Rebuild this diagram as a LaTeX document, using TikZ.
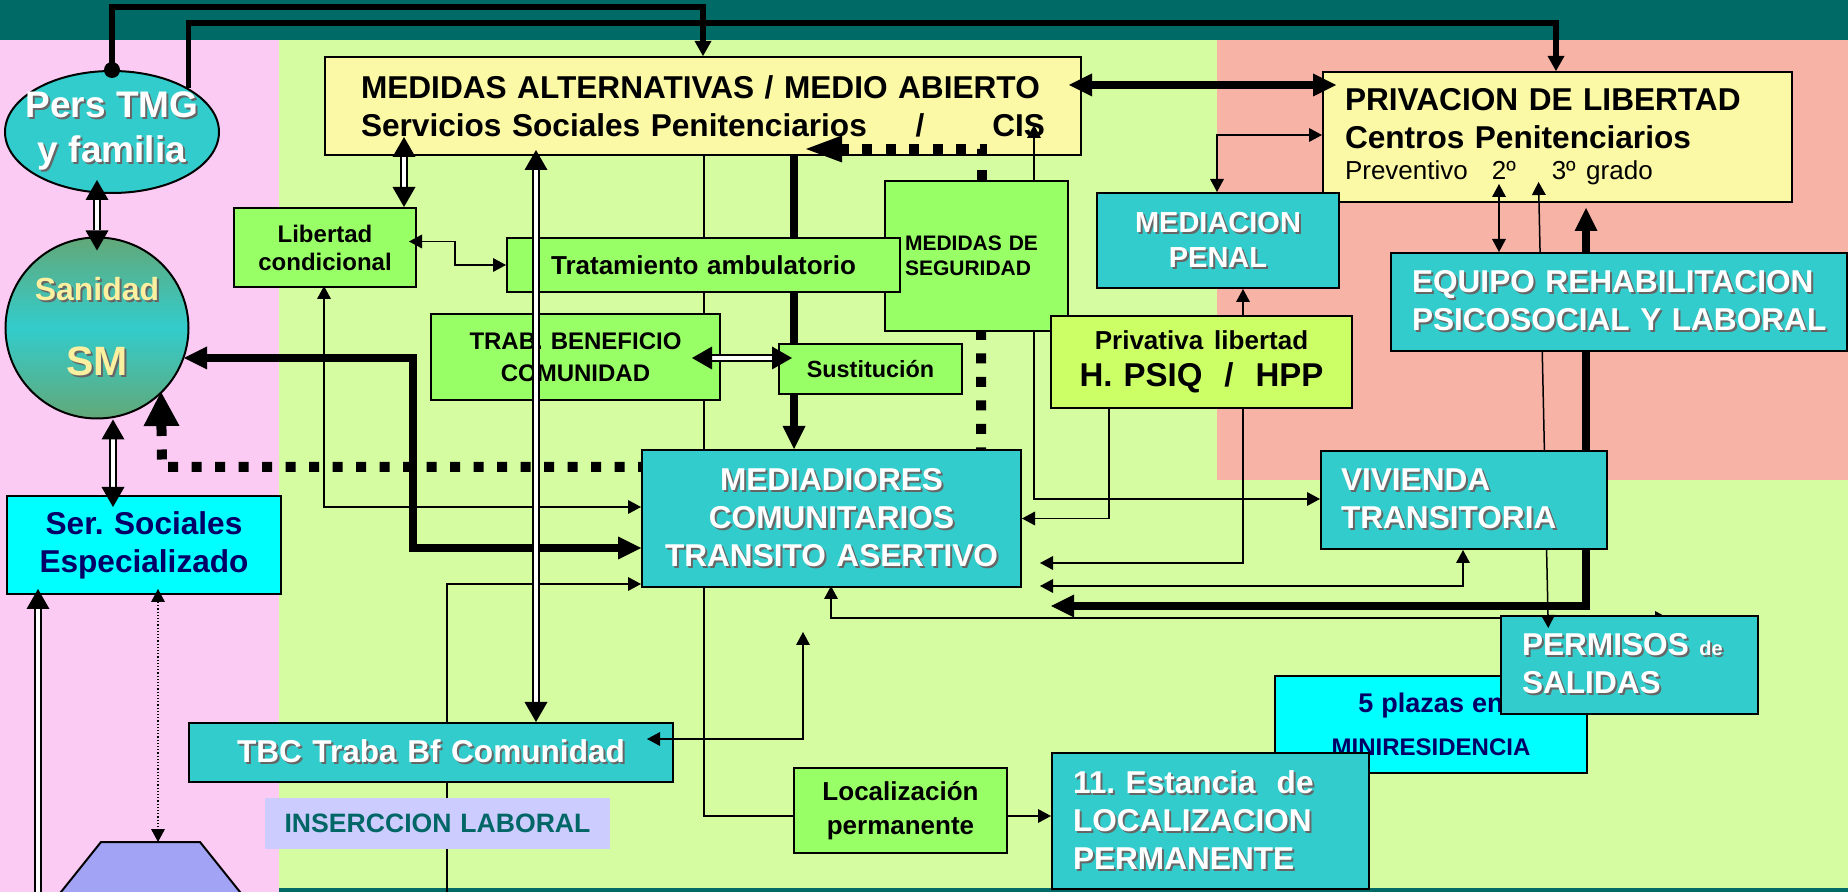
\documentclass[tikz,border=0pt]{standalone}
\usepackage{fontspec}
\setmainfont{Liberation Sans}
\usetikzlibrary{shapes.geometric, arrows.meta, positioning, calc}
\frenchspacing

\definecolor{bandteal}{HTML}{006B66}
\definecolor{pinkbg}{HTML}{FBCBF4}
\definecolor{greenbg}{HTML}{D5FCA0}
\definecolor{salmonbg}{HTML}{F7B3A6}
\definecolor{tealbox}{HTML}{33CCCC}
\definecolor{greenbox}{HTML}{99FF66}
\definecolor{yellowbox}{HTML}{FBF9A6}
\definecolor{cyanbox}{HTML}{00FFFF}
\definecolor{limebox}{HTML}{CCFF66}
\definecolor{lilacbox}{HTML}{CCCCFF}
\definecolor{trapblue}{HTML}{A3A3F5}
\definecolor{navytext}{HTML}{000066}
\definecolor{tealtext}{HTML}{006666}
\definecolor{sunny}{HTML}{FAF0A0}
\definecolor{sanigreen}{HTML}{62A878}

\newcommand{\fsz}[2]{\fontsize{#1}{#2}\selectfont}
\newcommand{\hdfont}{\bfseries\fsz{15.8}{19}}
% white text with a dark drop shadow, never broken
\newcommand{\shd}[1]{\mbox{\makebox[0pt][l]{\hspace{1pt}\raisebox{-1pt}{\color{black!60}#1}}#1}}

\tikzset{
  tipS/.tip={Triangle[length=6.5pt,width=7pt,line width=0pt]},
  tipT/.tip={Triangle[length=7.5pt,width=8.5pt,line width=0pt]},
  tipD/.tip={Triangle[length=10pt,width=11.5pt,line width=0pt]},
  tipB/.tip={Triangle[length=11.5pt,width=11.5pt,line width=0pt]},
  box/.style={draw, line width=1pt, anchor=north west, inner ysep=0pt},
  cbox/.style={box, align=center, inner xsep=0pt},
  lbox/.style={box, align=left},
  wire/.style={line width=0.75pt},
  heavy/.style={line width=3.9pt},
  topwire/.style={line width=2.6pt},
  twin/.style={line width=0.75pt, double=white, double distance=2.2pt},
  dots/.style={line width=5pt, dash pattern=on 5pt off 6.75pt},
}

\begin{document}
\begin{tikzpicture}[x=0.5pt, y=-0.5pt]
\clip (0,0) rectangle (1848,892);

% backgrounds
\fill[pinkbg] (0,40) rectangle (279,892);
\fill[greenbg] (279,40) rectangle (1848,892);
\fill[salmonbg] (1217,40) rectangle (1848,480);
\fill[bandteal] (0,0) rectangle (1848,40);
\fill[bandteal] (279,888) rectangle (1848,892);

% wires that run behind the boxes
\coordinate (lowfeed) at (447,892);
\draw[wire, -tipS] (lowfeed) |- (641,584);
\draw[wire] (704,154) |- (793,816);
\draw[heavy, -tipB] (794,147) -- (794,449);
\draw[dots, -{Triangle[length=17pt,width=18pt,line width=0pt]}] (981,330) |- (162,467) -- (161,392);
\draw[heavy, tipB-tipB, shorten <=3.5pt, shorten >=15.5pt] (1586,201) |- (1020,606);
\draw[wire, tipS-tipS] (831,586) |- (1668,618);
\draw[wire, tipS-tipS] (324,286) |- (641,507);
\draw[heavy, tipB-tipB] (184,358) -| (413,548) -- (641,548);

% the two big yellow boxes
\node[lbox, fill=yellowbox, inner xsep=18pt, text width=342pt, minimum height=49pt, font=\hdfont] (alt) at (324,56)
  {MEDIDAS ALTERNATIVAS / MEDIO ABIERTO\\\makebox[342pt][l]{Servicios Sociales Penitenciarios\hfill/\hspace{34pt}CIS}};
\node[lbox, fill=yellowbox, inner xsep=11pt, text width=212.5pt, minimum height=65pt, font=\hdfont] (priv) at (1322,71)
  {PRIVACION DE LIBERTAD\\Centros Penitenciarios\\[-3.5pt]{\mdseries\fsz{13}{15.5}Preventivo\hspace{12pt}2º\hspace{18pt}3º grado}};

\draw[wire, tipS-tipS, shorten <=-15.5pt] (1034,0 |- alt.south) |- (1320,499);
\draw[dots, -{Triangle[length=18pt,width=13.5pt,line width=0pt]}] (982,180) |- ($(alt.south -| 806,0)+(0,-7)$);
\draw[heavy, tipB-tipB, shorten <=-6.5pt, shorten >=-7pt] (alt.east |- 0,85) -- (priv.west |- 0,85);
\draw[twin, tipD-tipD, shorten <=-9.5pt] (404,0 |- alt.south) -- (404,207);
\draw[wire, tipS-tipS, shorten <=-9.5pt] (1499,0 |- priv.south) -- (1499,252);
\draw[wire, tipS-tipS] (1217,192) |- (priv.west |- 0,135);

% green measures
\node[lbox, fill=greenbox, inner xsep=10pt, text width=71.5pt, minimum height=75pt, font=\bfseries\fsz{10.5}{12.5}] (seg) at (884,180)
  {MEDIDAS DE\\SEGURIDAD};
\node[cbox, fill=greenbox, text width=144.5pt, minimum height=43pt, font=\bfseries\fsz{12}{16}] (trab) at (430,313)
  {TRAB. BENEFICIO\\COMUNIDAD};
\node[cbox, fill=greenbox, text width=196.5pt, minimum height=27pt, font=\bfseries\fsz{13}{16}] (trat) at (506,237)
  {Tratamiento ambulatorio};
\node[cbox, fill=greenbox, text width=91.5pt, minimum height=25pt, font=\bfseries\fsz{11.7}{14}] (sust) at (778,343)
  {Sustitución};
\node[cbox, fill=greenbox, text width=91pt, minimum height=39.5pt, font=\bfseries\fsz{12}{14}] (lib) at (233,207)
  {Libertad\\condicional};
\node[cbox, fill=tealbox, text=white, text width=189.5pt, minimum height=68.5pt, font=\hdfont] (med) at (641,449)
  {\shd{MEDIADIORES}\\\shd{COMUNITARIOS}\\\shd{TRANSITO ASERTIVO}};

\draw[twin, tipD-tipD, shorten <=-3pt] (536,0 |- alt.south) -- (536,722);
\draw[twin, tipD-tipD, shorten <=-14.5pt, shorten >=-7pt] (trab.east |- 0,358) -- (sust.west |- 0,358);
\draw[wire, tipS-tipS, shorten <=-4pt] ([yshift=3pt]lib.east) -| (455,0 |- trat.west) -- (trat.west);

% right hand side
\node[cbox, fill=cyanbox, text=navytext, text width=156pt, minimum height=48.5pt, font=\bfseries\fsz{12}{21.5}] (minires) at (1274,675)
  {{\fsz{13.5}{21.5}5 plazas en}\\MINIRESIDENCIA};
\node[lbox, fill=tealbox, text=white, inner xsep=10.5pt, text width=107.5pt, minimum height=49pt, font=\hdfont] (permisos) at (1500,615)
  {\shd{PERMISOS {\fsz{10}{19}de}}\\\shd{SALIDAS}};
\draw[wire, tipS-tipS, shorten <=-10.5pt, shorten >=-6.5pt] (1539,0 |- priv.south) -- (1548,0 |- permisos.north);
\node[lbox, fill=tealbox, text=white, inner xsep=10pt, text width=123pt, minimum height=49pt, font=\hdfont] (viv) at (1320,450)
  {\shd{VIVIENDA}\\\shd{TRANSITORIA}};
\node[lbox, fill=tealbox, text=white, inner xsep=10.5pt, text width=207pt, minimum height=49pt, font=\hdfont] (equipo) at (1390,252)
  {\shd{EQUIPO REHABILITACION}\\\shd{PSICOSOCIAL Y LABORAL}};
\node[cbox, fill=tealbox, text=white, text width=121pt, minimum height=47.5pt, font=\bfseries\fsz{14.5}{17.5}] (mediac) at (1096,192)
  {\shd{MEDIACION}\\\shd{PENAL}};
\node[cbox, fill=limebox, text width=150.5pt, minimum height=46pt, font=\bfseries\fsz{16.5}{18.5}] (privat) at (1050,315)
  {{\fsz{13}{18.5}Privativa libertad}\\H. PSIQ\ \ /\ \ HPP};
\node[lbox, fill=tealbox, text=white, inner xsep=10.5pt, text width=137.5pt, minimum height=68pt, font=\hdfont] (estancia) at (1051,752)
  {\shd{11. Estancia\ \ de}\\\shd{LOCALIZACION}\\\shd{PERMANENTE}};
\node[cbox, fill=greenbox, text width=106.5pt, minimum height=42.5pt, font=\bfseries\fsz{13}{17}] (loc) at (793,767)
  {Localización\\permanente};
\node[cbox, fill=tealbox, text=white, text width=242pt, minimum height=29.5pt, font=\hdfont] (tbc) at (188,722)
  {\shd{TBC Traba Bf Comunidad}};
\node[cbox, draw=none, fill=lilacbox, text=tealtext, text width=172.5pt, minimum height=25.5pt, font=\bfseries\fsz{13.3}{16}] (inser) at (264,797)
  {INSERCCION LABORAL};

\draw[wire, -tipS] (1243,0 |- privat.north) -- (1243,0 |- mediac.south);
\draw[wire, -tipS] (1109,0 |- privat.south) |- (med.east);
\draw[wire, -tipS, shorten >=9pt] (1243,0 |- privat.south) |- (med.east |- 0,563);
\draw[wire, tipS-tipS, shorten >=9pt] (1463,0 |- viv.south) |- (med.east |- 0,586);
\draw[wire, -tipS] (loc.east |- 0,816) -- (estancia.west |- 0,816);
\coordinate (tbcfeed) at (803,632);
\draw[wire, tipS-tipS, shorten >=-13.5pt] (tbcfeed) |- (tbc.east |- 0,739);

% left column
\node[ellipse, draw, line width=1pt, fill=tealbox, text=white, minimum width=107pt, minimum height=61pt, inner sep=0pt, align=center,
  font=\bfseries\fsz{18.5}{22.5}] (pers) at (112,132) {\makebox[0pt]{\shd{Pers TMG}}\\\makebox[0pt]{\shd{y familia}}};
\node[ellipse, draw, line width=1pt, top color=sanigreen, bottom color=sanigreen, middle color=tealbox, text=sunny,
  minimum width=91.5pt, minimum height=90.5pt, inner sep=0pt, align=center, font=\bfseries\fsz{20.5}{37.5}] (san) at (97,328)
  {\makebox[0pt]{\fsz{16}{37.5}\shd{Sanidad}}\\\makebox[0pt]{\shd{SM}}};
\node[cbox, fill=cyanbox, text=navytext, text width=137pt, minimum height=49pt, font=\hdfont] (sersoc) at (6,495)
  {Ser. Sociales\\Especializado};
\draw[line width=1pt, fill=trapblue] (101,842) -- (200,842) -- (280,942) -- (21,942) -- cycle;
\coordinate (trapz) at (150,842);

\draw[twin, tipD-tipD, shorten <=-7pt, shorten >=-7pt] (pers.south -| san.north) -- (san.north);
\draw[twin, tipD-tipD, shorten >=-6pt] (san.south -| 113,0) -- (113,0 |- sersoc.north);
\coordinate (sersocfeed) at (38,892);
\draw[twin, -tipD, shorten >=-3pt] (sersocfeed) -- (sersocfeed |- sersoc.south);
\draw[densely dotted, line width=0.6pt, tipS-tipS, shorten <=-3pt] (158,0 |- sersoc.south) -- (158,0 |- trapz);

% lines from the person at the top
\draw[topwire, -tipT] (pers.north) |- (703,7) -- (703,0 |- alt.north);
\draw[topwire, -tipT] (pers.30) |- (1556,23) -- (1556,0 |- priv.north);
\fill (pers.north) circle (4pt);
\end{tikzpicture}
\end{document}
